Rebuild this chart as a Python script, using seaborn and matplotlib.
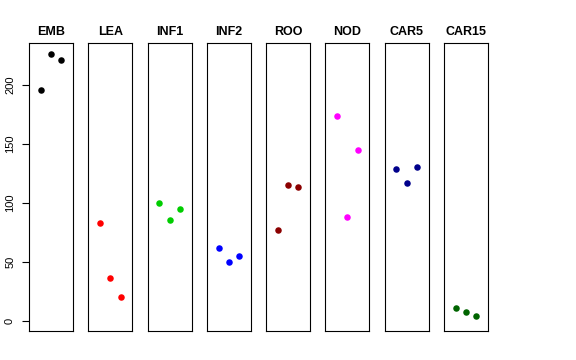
import matplotlib
matplotlib.use("Agg")
import matplotlib.pyplot as plt
import pandas as pd
import seaborn as sns

tissues = ["EMB", "LEA", "INF1", "INF2", "ROO", "NOD", "CAR5", "CAR15"]
colors = ["black", "#FF0000", "#00CD00", "#0000FF", "#8B0000", "#FF00FF", "#00008B", "#006400"]
rep = [1, 2, 3]
emb = [196, 226, 221]
lea = [82.5, 36, 20]
inf1 = [100, 85, 95]
inf2 = [62, 50, 54.5]
roo = [77, 115, 113.5]
nod = [174, 87.5, 144.5]
car5 = [129, 116.5, 130.5]
car15 = [10.5, 7, 4]
values = [emb, lea, inf1, inf2, roo, nod, car5, car15]

sns.set_style("white")
plt.rcParams["font.family"] = ["Liberation Sans", "DejaVu Sans"]
plt.rcParams["text.color"] = "black"

fig, axes = plt.subplots(1, 8, sharey=True, figsize=(5.76, 3.6), dpi=100)
fig.subplots_adjust(left=29 / 576, right=488 / 576, top=1 - 43 / 360, bottom=1 - 331 / 360,
                    wspace=0.34)

for ax, name, col, vals in zip(axes, tissues, colors, values):
    df = pd.DataFrame({"rep": rep, "value": vals})
    sns.scatterplot(data=df, x="rep", y="value", color=col, s=22, linewidth=0, ax=ax)
    ax.set_xlim(-0.16, 4.16)
    ax.set_ylim(-8.9, 235.7)
    ax.set_title(name, fontsize=9, fontweight="bold", pad=6, color="black")
    ax.set_xlabel("")
    ax.set_ylabel("")
    ax.set_xticks([])
    for sp in ax.spines.values():
        sp.set_visible(True)
        sp.set_color("black")
        sp.set_linewidth(0.8)
    ax.tick_params(left=False, labelleft=False)

axes[0].set_yticks([0, 50, 100, 150, 200])
axes[0].tick_params(axis="y", left=True, labelleft=True, length=5, width=0.8,
                    pad=5, labelsize=8, colors="black")
for lab in axes[0].get_yticklabels():
    lab.set_rotation(90)
    lab.set_va("center")

fig.savefig("out.png", dpi=100)
